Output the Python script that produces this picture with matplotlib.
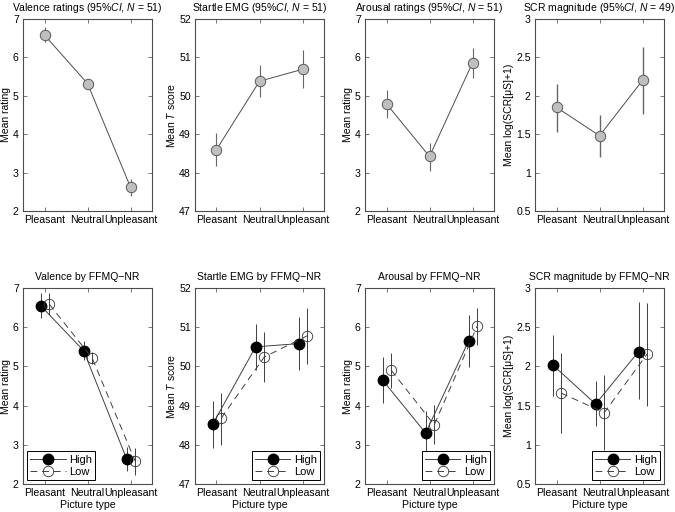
import numpy as np
import matplotlib
matplotlib.use("Agg")
import matplotlib.pyplot as plt
from matplotlib.ticker import FormatStrFormatter

plt.rcParams['font.family'] = ['Liberation Sans', 'DejaVu Sans']
plt.rcParams['mathtext.fontset'] = 'custom'
plt.rcParams['mathtext.rm'] = 'Liberation Sans'
plt.rcParams['mathtext.it'] = 'Liberation Sans:italic'
plt.rcParams['font.size'] = 7.5

categories = ['Pleasant', 'Neutral', 'Unpleasant']

# top row: overall means with 95% CI (lower, upper)
valence_mean = [6.58, 5.32, 2.62]
valence_lo = [6.39, 5.19, 2.39]
valence_hi = [6.79, 5.45, 2.84]

startle_mean = [48.60, 50.38, 50.69]
startle_lo = [48.16, 49.96, 50.20]
startle_hi = [49.03, 50.81, 51.19]

arousal_mean = [4.79, 3.42, 5.86]
arousal_lo = [4.42, 3.03, 5.47]
arousal_hi = [5.15, 3.78, 6.24]

scr_mean = [1.85, 1.48, 2.20]
scr_lo = [1.53, 1.20, 1.76]
scr_hi = [2.16, 1.75, 2.63]

# bottom row: by FFMQ-NR group
valence_high = [6.55, 5.40, 2.64]
valence_high_lo = [6.23, 5.17, 2.34]
valence_high_hi = [6.87, 5.64, 2.94]
valence_low = [6.59, 5.21, 2.58]
valence_low_lo = [6.31, 5.06, 2.23]
valence_low_hi = [6.86, 5.37, 2.92]

startle_high = [48.52, 50.50, 50.58]
startle_high_lo = [47.91, 49.92, 49.92]
startle_high_hi = [49.11, 51.09, 51.26]
startle_low = [48.68, 50.24, 50.78]
startle_low_lo = [48.00, 49.60, 50.05]
startle_low_hi = [49.31, 50.88, 51.50]

arousal_high = [4.65, 3.30, 5.65]
arousal_high_lo = [4.06, 2.73, 4.99]
arousal_high_hi = [5.24, 3.87, 6.31]
arousal_low = [4.90, 3.51, 6.03]
arousal_low_lo = [4.46, 3.01, 5.55]
arousal_low_hi = [5.34, 4.02, 6.50]

scr_high = [2.02, 1.52, 2.19]
scr_high_lo = [1.62, 1.24, 1.58]
scr_high_hi = [2.40, 1.82, 2.82]
scr_low = [1.66, 1.41, 2.16]
scr_low_lo = [1.15, 0.93, 1.50]
scr_low_hi = [2.17, 1.89, 2.81]

top_titles = ['Valence ratings (95%$CI$, $N$ = 51)', 'Startle EMG (95%$CI$, $N$ = 51)',
              'Arousal ratings (95%$CI$, $N$ = 51)', 'SCR magnitude (95%$CI$, $N$ = 49)']
bottom_titles = ['Valence by FFMQ\u2212NR', 'Startle EMG by FFMQ\u2212NR',
                 'Arousal by FFMQ\u2212NR', 'SCR magnitude by FFMQ\u2212NR']
ylabels = ['Mean rating', 'Mean $T$ score', 'Mean rating', 'Mean log(SCR[\u03bcS]+1)']
ylims = [(2, 7), (47, 52), (2, 7), (0.5, 3)]
yticks = [np.arange(2, 8, 1), np.arange(47, 53, 1), np.arange(2, 8, 1), np.arange(0.5, 3.01, 0.5)]

top_data = [(valence_mean, valence_lo, valence_hi), (startle_mean, startle_lo, startle_hi),
            (arousal_mean, arousal_lo, arousal_hi), (scr_mean, scr_lo, scr_hi)]
bottom_data = [
    ((valence_high, valence_high_lo, valence_high_hi), (valence_low, valence_low_lo, valence_low_hi)),
    ((startle_high, startle_high_lo, startle_high_hi), (startle_low, startle_low_lo, startle_low_hi)),
    ((arousal_high, arousal_high_lo, arousal_high_hi), (arousal_low, arousal_low_lo, arousal_low_hi)),
    ((scr_high, scr_high_lo, scr_high_hi), (scr_low, scr_low_lo, scr_low_hi)),
]
legend_locs = ['lower left', 'lower right', 'lower right', 'lower right']

W, H = 675, 512
fig = plt.figure(figsize=(W / 100, H / 100), dpi=100)
lefts = [23, 195, 365, 535]
ax_w = 129


def style_axes(ax, i):
    ax.set_xlim(0.5, 3.5)
    ax.set_ylim(*ylims[i])
    ax.set_yticks(yticks[i])
    ax.yaxis.set_major_formatter(FormatStrFormatter('%g'))
    ax.set_xticks([1, 2, 3])
    ax.set_xticklabels(categories)
    ax.tick_params(direction='in', length=3, width=0.5, top=True, right=True,
                   labelsize=7.6, pad=3, colors='0.25', labelcolor='black')
    for s in ax.spines.values():
        s.set_color('0.3')
        s.set_linewidth(0.8)
    ax.set_ylabel(ylabels[i], fontsize=7.5, labelpad=1.5)


x = np.arange(1, 4)
for i in range(4):
    # top row
    ax = fig.add_axes([lefts[i] / W, 1 - 211 / H, ax_w / W, 192 / H])
    m, lo, hi = [np.array(a) for a in top_data[i]]
    ax.errorbar(x, m, yerr=[m - lo, hi - m], fmt='none', ecolor='0.4',
                elinewidth=1.0 if i == 3 else 0.8, capsize=0)
    ax.plot(x, m, '-o', color='0.3', lw=0.7, ms=7.5, mfc='0.75', mec='0.35', mew=0.7)
    style_axes(ax, i)
    ax.set_title(top_titles[i], fontsize=7.5, pad=6)

    # bottom row
    ax = fig.add_axes([lefts[i] / W, 1 - 484 / H, ax_w / W, 196 / H])
    (mh, loh, hih), (ml, lol, hil) = [[np.array(a) for a in g] for g in bottom_data[i]]
    ax.errorbar(x - 0.09, mh, yerr=[mh - loh, hih - mh], fmt='none', ecolor='0.25',
                elinewidth=0.7, capsize=0)
    ax.errorbar(x + 0.11, ml, yerr=[ml - lol, hil - ml], fmt='none', ecolor='0.25',
                elinewidth=0.7, capsize=0)
    ax.plot(x - 0.09, mh, '-o', color='0.25', lw=0.7, ms=7.5, mfc='black', mec='black',
            label='High')
    ax.plot(x + 0.11, ml, 'o', color='0.25', ls=(0, (7, 5)), lw=0.7, ms=7.5,
            mfc='none', mec='0.2', mew=0.6, label='Low')
    style_axes(ax, i)
    ax.set_title(bottom_titles[i], fontsize=7.5, pad=6)
    ax.set_xlabel('Picture type', fontsize=7.6, labelpad=1)
    leg = ax.legend(loc=legend_locs[i], fontsize=8, frameon=True, fancybox=False,
                    edgecolor='black', framealpha=1, handlelength=3.2, labelspacing=0.2,
                    borderpad=0.3, borderaxespad=0.35, handletextpad=0.3)
    leg.get_frame().set_linewidth(0.7)

fig.savefig('out.png', dpi=100)
